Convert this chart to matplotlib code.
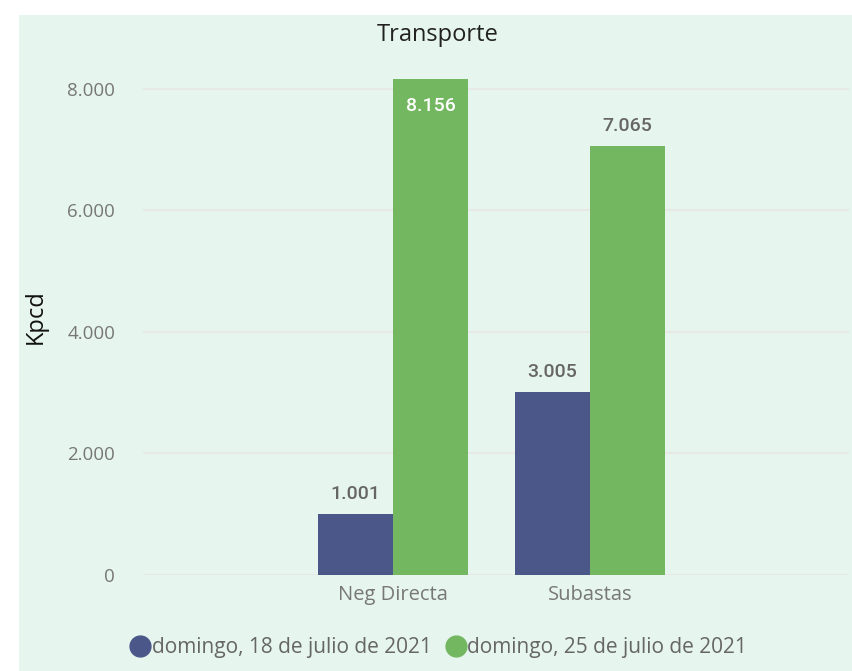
import matplotlib
matplotlib.use("Agg")
import matplotlib.pyplot as plt
from matplotlib.patches import Rectangle
from matplotlib.lines import Line2D
import numpy as np

categories = ["Neg Directa", "Subastas"]
series_names = ["domingo, 18 de julio de 2021", "domingo, 25 de julio de 2021"]
values_18 = [1001, 3005]
values_25 = [8156, 7065]
yticks = [0, 2000, 4000, 6000, 8000]
ytick_labels = ["0", "2.000", "4.000", "6.000", "8.000"]

navy = "#4a5788"
green = "#73b761"
bg = "#e6f5ee"
grid_c = "#e6e9e6"
tick_c = "#777777"

W, H = 852, 671
fig = plt.figure(figsize=(W / 100, H / 100), dpi=100)
fig.patch.set_facecolor("white")
fig.patches.append(Rectangle((19 / W, 0), 1 - 19 / W, 1 - 15 / H, transform=fig.transFigure,
                             facecolor=bg, edgecolor="none", zorder=-10))

ax_left, ax_right = 143 / W, 849 / W
ax_bottom = (H - 575) / H
ax_top = (H - 58.6) / H
ax = fig.add_axes([ax_left, ax_bottom, ax_right - ax_left, ax_top - ax_bottom])
ax.set_facecolor("none")

x = np.arange(len(categories))
bw = 0.38
b1 = ax.bar(x - bw / 2, values_18, bw, color=navy, zorder=3)
b2 = ax.bar(x + bw / 2, values_25, bw, color=green, zorder=3)

ax.set_xlim(-1.27, 2.315)
ax.set_ylim(0, 8500)
ax.set_yticks(yticks)
ax.set_yticklabels(ytick_labels)
ax.set_xticks(x)
ax.set_xticklabels(categories)
for s in ax.spines.values():
    s.set_visible(False)
ax.tick_params(axis="y", length=0, colors=tick_c, labelsize=13.5, pad=20)
ax.tick_params(axis="x", length=0, colors=tick_c, labelsize=14.5, pad=7)
for lbl in ax.get_xticklabels() + ax.get_yticklabels():
    lbl.set_fontfamily("Open Sans")
ax.grid(axis="y", color=grid_c, linewidth=1.5, zorder=0)

def fmt(v):
    return f"{v:,}".replace(",", ".")

for bars in (b1, b2):
    for rect in bars:
        v = rect.get_height()
        cx = rect.get_x() + rect.get_width() / 2
        if v > 8000:
            ax.text(cx, v - 430, fmt(int(v)), ha="center", va="center", color="white",
                    fontsize=14, fontfamily="Roboto", fontweight="medium", zorder=5)
        else:
            ax.text(cx, v + 330, fmt(int(v)), ha="center", va="center", color="#666666",
                    fontsize=14, fontfamily="Roboto", fontweight="medium", zorder=5)

ax.set_ylabel("Kpcd", fontsize=17, fontfamily="Open Sans", color="#111111", labelpad=14)

fig.text(438 / W, 1 - 35 / H, "Transporte", ha="center", va="center", fontsize=17,
         fontfamily="Open Sans", color="#222222")

handles = [Line2D([], [], marker="o", linestyle="none", markersize=15, color=c) for c in (navy, green)]
leg = fig.legend(handles, series_names, loc="center", bbox_to_anchor=(436 / W, 1 - 648 / H),
                 ncol=2, frameon=False, handletextpad=-0.2, columnspacing=0.4, handlelength=1.5,
                 prop={"family": "Open Sans", "size": 15})
for t in leg.get_texts():
    t.set_color("#666666")

fig.savefig("out.png", dpi=100, facecolor=fig.get_facecolor())
